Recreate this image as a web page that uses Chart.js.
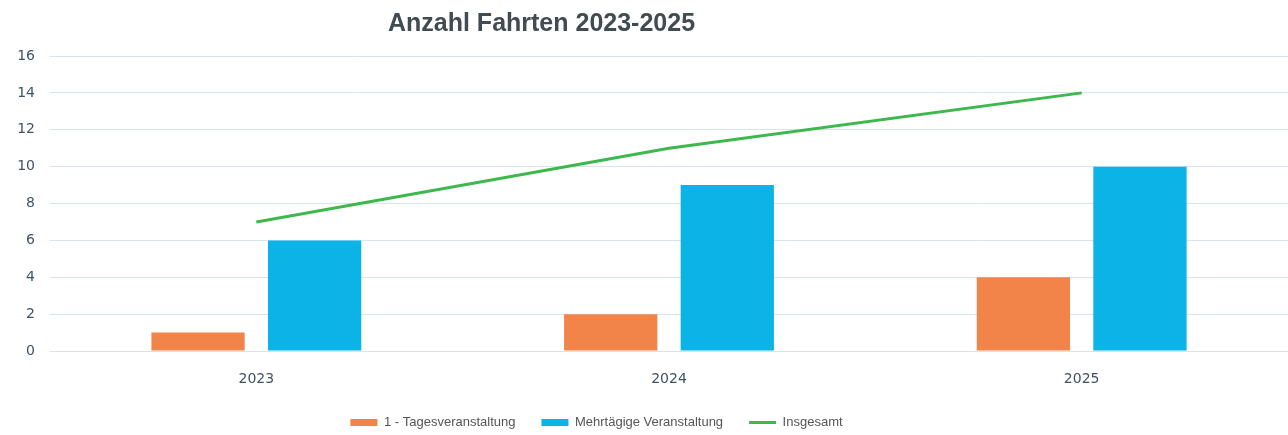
<!DOCTYPE html>
<html>
<head>
<meta charset="utf-8">
<script src="https://cdn.jsdelivr.net/npm/chart.js@4"></script>
<style>
  html, body { margin: 0; padding: 0; background: #ffffff; }
  #wrap { width: 1288px; height: 435px; }
</style>
</head>
<body>
<div id="wrap"><canvas id="myChart" width="1288" height="435"></canvas></div>
<script>
var jahre = ['2023', '2024', '2025'];
var tagesVeranstaltung = [1, 2, 4];
var mehrtaegig = [6, 9, 10];
var insgesamt = [7, 11, 14];
var yTicks = [0, 2, 4, 6, 8, 10, 12, 14, 16];

var orange = '#f2844a';
var blau = '#0bb3e6';
var gruen = '#3db84c';

// title and legend sit a bit left of the centre in the original
var shiftBoxes = {
  id: 'shiftBoxes',
  afterLayout: function(chart) {
    if (chart.titleBlock) {
      chart.titleBlock.left -= 111;
      chart.titleBlock.right -= 111;
    }
    if (chart.legend) {
      chart.legend.left -= 56;
      chart.legend.right -= 56;
    }
  }
};

var ctx = document.getElementById('myChart').getContext('2d');

var myChart = new Chart(ctx, {
  type: 'bar',
  data: {
    labels: jahre,
    datasets: [{
      label: '1 - Tagesveranstaltung',
      data: tagesVeranstaltung,
      backgroundColor: orange,
      borderWidth: 0
    }, {
      label: 'Mehrtägige Veranstaltung',
      data: mehrtaegig,
      backgroundColor: blau,
      borderWidth: 0
    }, {
      type: 'line',
      label: 'Insgesamt',
      data: insgesamt,
      borderColor: gruen,
      backgroundColor: gruen,
      borderWidth: 3,
      pointRadius: 0,
      tension: 0
    }]
  },
  plugins: [shiftBoxes],
  options: {
    responsive: false,
    animation: false,
    categoryPercentage: 0.565,
    barPercentage: 0.8,
    layout: { autoPadding: false, padding: { left: 17, right: 0, top: 0, bottom: 0 } },
    scales: {
      x: {
        grid: { display: false, drawTicks: false },
        border: { display: false },
        afterFit: function(scale) { scale.height = 39; },
        ticks: {
          color: '#3f5262',
          padding: 20,
          font: { family: '"DejaVu Sans", sans-serif', size: 14 }
        }
      },
      y: {
        min: 0,
        max: 16,
        afterBuildTicks: function(scale) {
          scale.ticks = yTicks.map(function(v) { return { value: v }; });
        },
        afterFit: function(scale) { scale.width = 33; },
        grid: { color: '#d6e4ee', lineWidth: 1, drawTicks: false },
        border: { display: false },
        ticks: {
          color: '#3f5464',
          padding: 15,
          font: { family: '"DejaVu Sans", sans-serif', size: 14 }
        }
      }
    },
    plugins: {
      title: {
        display: true,
        text: 'Anzahl Fahrten 2023-2025',
        color: '#404b52',
        font: { family: '"Liberation Sans", Arial, sans-serif', size: 25, weight: 'bold' },
        padding: { top: 9, bottom: 17 }
      },
      legend: {
        position: 'bottom',
        maxHeight: 45,
        labels: {
          color: '#555555',
          font: { family: '"Liberation Sans", Arial, sans-serif', size: 13 },
          usePointStyle: true,
          pointStyleWidth: 27,
          boxHeight: 7,
          padding: 26,
          generateLabels: function(chart) {
            var items = Chart.defaults.plugins.legend.labels.generateLabels(chart);
            items.sort(function(a, b) { return a.datasetIndex - b.datasetIndex; });
            items.forEach(function(it) {
              if (it.datasetIndex === 2) {
                it.pointStyle = 'line';
                it.lineWidth = 3;
                it.strokeStyle = gruen;
              } else {
                it.pointStyle = 'rect';
                it.lineWidth = 0;
              }
            });
            return items;
          }
        }
      },
      tooltip: { enabled: false }
    }
  }
});
</script>
</body>
</html>
